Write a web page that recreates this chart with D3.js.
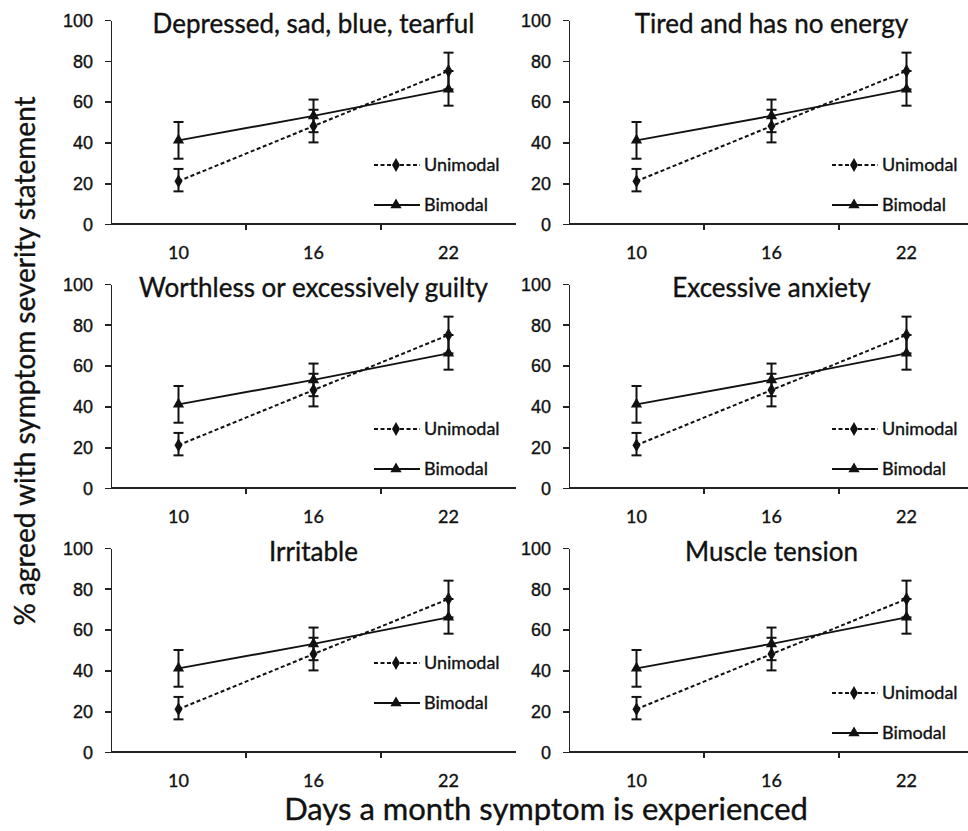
<!DOCTYPE html>
<meta charset="utf-8">
<style>
body { margin: 0; background: #fff; }
svg { display: block; font-family: Lato, "Open Sans", sans-serif; }
text { stroke: #111; stroke-width: 0.35px; }
.axis path, .axis line { stroke: #222; stroke-width: 1.6px; shape-rendering: crispEdges; }
.axis text { font-size: 18px; fill: #111; }
.title { font-size: 26px; fill: #111; text-anchor: middle; }
.legend text { font-size: 18px; fill: #111; }
.err { stroke: #111; stroke-width: 2px; }
</style>
<body>
<script src="https://cdn.jsdelivr.net/npm/d3@7"></script>
<script>

// all six panels in the source figure show the same values
var symptoms = ["Depressed, sad, blue, tearful", "Tired and has no energy",
                "Worthless or excessively guilty", "Excessive anxiety",
                "Irritable", "Muscle tension"];
var days = ["10", "16", "22"];
var yTicks = [0, 20, 40, 60, 80, 100];

var unimodal     = [21, 48, 75];
var unimodalLow  = [16, 40, 66];
var unimodalHigh = [27, 56, 84];

var bimodal     = [41, 53, 66];
var bimodalLow  = [32, 45, 58];
var bimodalHigh = [50, 61, 75];

var seriesNames = ["Unimodal", "Bimodal"];

var W = 968, H = 831;
var colLeft = [111, 569], rowBase = [224, 488, 752];
var pw = 405, ph = 204;
// legend in the bottom-left panel sits higher than the rest
var legendUp = [0, 0, 0, 0, 30, 0];

var svg = d3.select("body").append("svg")
    .attr("width", W)
    .attr("height", H);

var x = d3.scaleBand().domain(days).range([0, pw]);
var y = d3.scaleLinear().domain([0, 100]).range([ph, 0]);

var series = [
  {name: seriesNames[0], v: unimodal, lo: unimodalLow, hi: unimodalHigh, dash: "4,2.5", sym: d3.symbolDiamond, size: 55},
  {name: seriesNames[1], v: bimodal, lo: bimodalLow, hi: bimodalHigh, dash: null, sym: d3.symbolTriangle, size: 55}
];

var line = d3.line()
    .x(function(d, i) { return x(days[i]) + x.bandwidth() / 2; })
    .y(function(d) { return y(d); });

symptoms.forEach(function(name, k) {
  var col = k % 2, row = Math.floor(k / 2);
  var g = svg.append("g")
      .attr("transform", "translate(" + colLeft[col] + "," + (rowBase[row] - ph) + ")");

  // x axis: ticks at category boundaries, labels at centres
  var xa = g.append("g").attr("class", "axis").attr("transform", "translate(0," + ph + ")");
  xa.append("line").attr("x1", 0).attr("x2", pw);
  xa.selectAll(".tk").data(days.slice(1)).enter().append("line")
      .attr("x1", function(d) { return x(d); })
      .attr("x2", function(d) { return x(d); })
      .attr("y1", 0).attr("y2", 6);
  xa.selectAll("text").data(days).enter().append("text")
      .attr("x", function(d) { return x(d) + x.bandwidth() / 2; })
      .attr("y", 35)
      .attr("text-anchor", "middle")
      .text(function(d) { return d; });

  g.append("g").attr("class", "axis")
      .call(d3.axisLeft(y).tickValues(yTicks).tickSize(6).tickPadding(12).tickSizeOuter(0))
      .call(function(s) { s.selectAll("text").attr("dy", "0.35em"); });

  g.append("text").attr("class", "title")
      .attr("x", pw / 2)
      .attr("y", 13)
      .text(name);

  series.forEach(function(s) {
    var cx = function(d, i) { return x(days[i]) + x.bandwidth() / 2; };
    var eb = g.append("g");
    s.v.forEach(function(v, i) {
      var xx = cx(v, i);
      eb.append("line").attr("class", "err").attr("x1", xx).attr("x2", xx)
        .attr("y1", y(s.lo[i])).attr("y2", y(s.hi[i]));
      [s.lo[i], s.hi[i]].forEach(function(e) {
        eb.append("line").attr("class", "err").attr("x1", xx - 5).attr("x2", xx + 5)
          .attr("y1", y(e)).attr("y2", y(e));
      });
    });
    g.append("path")
        .datum(s.v)
        .attr("d", line)
        .attr("fill", "none")
        .attr("stroke", "#111")
        .attr("stroke-width", 2)
        .attr("stroke-dasharray", s.dash);
    g.selectAll(null).data(s.v).enter().append("path")
        .attr("transform", function(d, i) { return "translate(" + cx(d, i) + "," + y(d) + ")"; })
        .attr("d", d3.symbol().type(s.sym).size(s.size))
        .attr("fill", "#111");
  });

  // legend
  var lg = g.append("g").attr("class", "legend")
      .attr("transform", "translate(" + 263 + "," + (ph - 59 - legendUp[k]) + ")");
  series.forEach(function(s, i) {
    var r = lg.append("g").attr("transform", "translate(0," + (i * 40) + ")");
    r.append("line").attr("x1", 0).attr("x2", 46)
        .attr("stroke", "#111").attr("stroke-width", 2)
        .attr("stroke-dasharray", s.dash);
    r.append("path").attr("transform", "translate(22,0)")
        .attr("d", d3.symbol().type(s.sym).size(s.size)).attr("fill", "#111");
    r.append("text").attr("x", 50).attr("dy", "0.35em").text(s.name);
  });
});

svg.append("text")
    .attr("x", 546).attr("y", 820)
    .attr("text-anchor", "middle")
    .style("font-size", "31px").attr("fill", "#111")
    .text("Days a month symptom is experienced");

svg.append("text")
    .attr("transform", "translate(35,361) rotate(-90)")
    .attr("text-anchor", "middle")
    .style("font-size", "28px").attr("fill", "#111")
    .text("% agreed with symptom severity statement");

</script>
